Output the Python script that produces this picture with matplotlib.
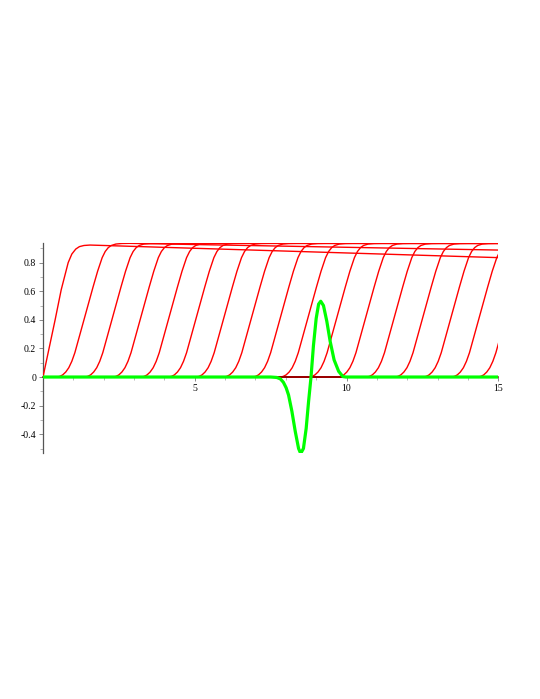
import matplotlib.pyplot as plt
import numpy as np

# 0.4-crossing position of every travelling front
front_pos = [1.35, 2.27, 3.20, 4.13, 5.03, 5.94, 6.85, 7.80, 8.71,
             9.66, 10.61, 11.55, 12.49, 13.42, 14.35, 15.22]
# shape of one front, x relative to its 0.4 crossing
prof_dx = [-0.90, -0.80, -0.70, -0.60, -0.50, -0.40, -0.30, -0.15, 0.0,
           0.15, 0.30, 0.45, 0.60, 0.70, 0.80, 0.90, 1.05, 1.25, 1.50]
prof_y = [0.0, 0.004, 0.015, 0.035, 0.065, 0.11, 0.17, 0.285, 0.40,
          0.515, 0.63, 0.74, 0.835, 0.878, 0.905, 0.92, 0.93, 0.934, 0.935]
plateau_end = [0.888] + [0.935] * 15   # value reached at x=15

# first curve, starts at the boundary
c1_x = [0, 0.2, 0.4, 0.6, 0.83, 0.95, 1.08, 1.2, 1.35, 1.55, 15]
c1_y = [0, 0.2, 0.4, 0.61, 0.80, 0.86, 0.895, 0.912, 0.92, 0.923, 0.835]

# green pulse
g_x = [0, 7.5, 7.7, 7.82, 7.92, 8.01, 8.09, 8.2, 8.31, 8.42, 8.49, 8.58,
       8.67, 8.75, 8.83, 8.91, 9.0, 9.08, 9.15, 9.24, 9.35, 9.46, 9.59,
       9.74, 9.88, 9.98, 15]
g_y = [0, 0, -0.003, -0.013, -0.037, -0.075, -0.126, -0.24, -0.38, -0.50,
       -0.535, -0.50, -0.36, -0.17, 0.0, 0.22, 0.41, 0.51, 0.53, 0.50,
       0.39, 0.25, 0.12, 0.04, 0.003, 0, 0]

fig = plt.figure(figsize=(5.4, 6.99), dpi=100)
ax = fig.add_axes([0.0796, 0.3514, 0.8432, 0.3015])

red = '#ff0000'
ax.plot(c1_x, c1_y, color=red, lw=1.0, zorder=3)
for c, yend in zip(front_pos, plateau_end):
    xs = [0] + [c + d for d in prof_dx] + [max(15.0, c + 1.6)]
    ys = [0] + prof_y + [yend]
    ax.plot(xs, ys, color=red, lw=1.0, zorder=3)
ax.plot(g_x, g_y, color='#00ff00', lw=2.3, zorder=4)

ax.set_xlim(0, 15)
ax.set_ylim(-0.534, 0.94)
for s in ['top', 'right']:
    ax.spines[s].set_visible(False)
ax.spines['left'].set_position(('data', 0))
ax.spines['bottom'].set_position(('data', 0))
ax.spines['left'].set_color('#555555')
ax.spines['left'].set_linewidth(0.9)
# the zero axis shows dark red where only red curves lie on it
ax.spines['bottom'].set_color('#7a0000')
ax.spines['bottom'].set_linewidth(1.1)
ax.spines['bottom'].set_zorder(3.5)

ax.set_xticks([5, 10, 15])
ax.set_xticklabels(['5', '10', '15'])
ax.set_xticks(np.arange(1, 15), minor=True)
ax.set_yticks([-0.4, -0.2, 0, 0.2, 0.4, 0.6, 0.8])
ax.set_yticklabels(['-0.4', '-0.2', '0', '0.2', '0.4', '0.6', '0.8'])
ax.set_yticks(np.arange(-0.5, 0.95, 0.1), minor=True)
ax.tick_params(which='major', length=3, width=0.6, color='#777777',
               labelsize=7, pad=2)
ax.tick_params(which='minor', length=2, width=0.5, color='#999999')
for lab in ax.get_xticklabels() + ax.get_yticklabels():
    lab.set_family('Liberation Serif')

fig.savefig('out.png', dpi=100)
